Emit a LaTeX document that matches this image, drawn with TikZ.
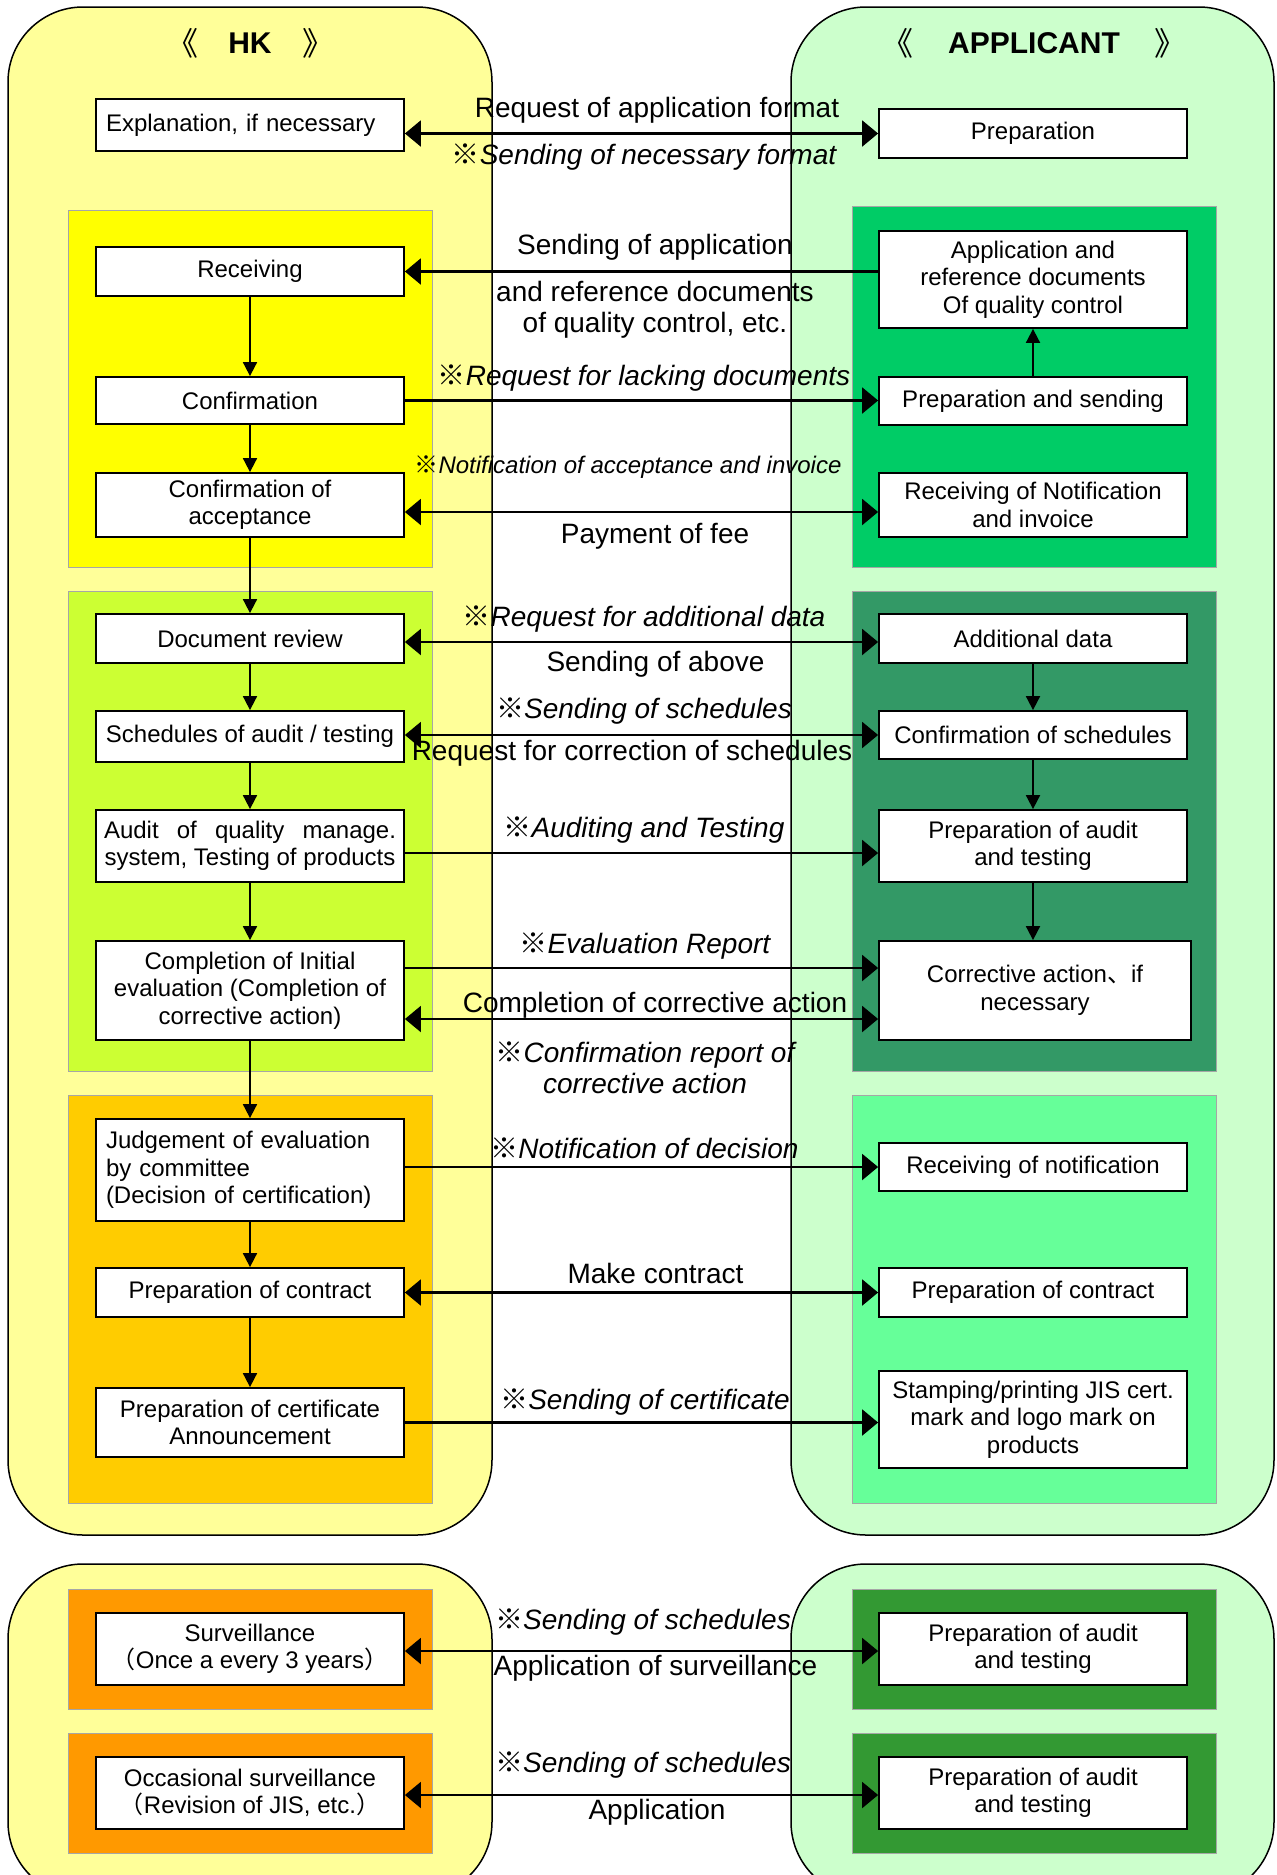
\documentclass[tikz,border=0pt]{standalone}
\usepackage{fontspec}
\setmainfont{Liberation Sans}
\newfontfamily\cjk{Noto Sans CJK JP}
\usetikzlibrary{arrows.meta}
\newcommand\km{{\cjk ※}}
\definecolor{bgY}{HTML}{FFFF99}
\definecolor{bgG}{HTML}{CCFFCC}
\definecolor{pYa}{HTML}{FFFF00}
\definecolor{pGa}{HTML}{00CC66}
\definecolor{pYb}{HTML}{CCFF33}
\definecolor{pGb}{HTML}{339966}
\definecolor{pYc}{HTML}{FFCC00}
\definecolor{pGc}{HTML}{66FF99}
\definecolor{pYd}{HTML}{FF9900}
\definecolor{pGd}{HTML}{339933}
\begin{document}
\begin{tikzpicture}[x=1pt,y=-1pt,
 box/.style={draw,line width=1.8pt,fill=white,align=center,inner sep=2pt,font=\fontsize{24}{27.5}\selectfont,minimum width=308pt},
 lab/.style={inner sep=0pt,align=center,font=\fontsize{28}{31}\selectfont},
 ilab/.style={inner sep=0pt,align=center,font=\fontsize{28}{31}\selectfont\itshape},
 silab/.style={inner sep=0pt,align=center,font=\fontsize{24}{27}\selectfont\itshape},
 hd/.style={inner sep=0pt,font=\fontsize{30}{32}\selectfont\bfseries},
 hbr/.style={inner sep=0pt,font=\fontsize{32}{34}\selectfont\cjk},
 harr/.style={line width=2.2pt,-{Triangle[length=16pt,width=26pt]}},
 darr/.style={line width=2.2pt,{Triangle[length=16pt,width=26pt]}-{Triangle[length=16pt,width=26pt]}},
 varr/.style={line width=1.8pt,-{Triangle[length=14pt,width=14pt]}},
 panel/.style={draw=black!35,line width=1pt},
 big/.style={draw=black,line width=1.5pt,rounded corners=75pt}
]
\path[use as bounding box] (0,0) rectangle (1277,1875);
\clip (0,0) rectangle (1277,1875);
% big lanes
\draw[big,fill=bgY] (8,7) rectangle (492,1535);
\draw[big,fill=bgG] (791,7) rectangle (1274,1535);
\draw[big,fill=bgY] (8,1564) rectangle (492,1897);
\draw[big,fill=bgG] (791,1564) rectangle (1274,1897);
% panels
\draw[panel,fill=pYa] (68,210) rectangle (432,567);
\draw[panel,fill=pGa] (852,206) rectangle (1216,567);
\draw[panel,fill=pYb] (68,591) rectangle (432,1071);
\draw[panel,fill=pGb] (852,591) rectangle (1216,1071);
\draw[panel,fill=pYc] (68,1095) rectangle (432,1503);
\draw[panel,fill=pGc] (852,1095) rectangle (1216,1503);
\draw[panel,fill=pYd] (68,1589) rectangle (432,1709);
\draw[panel,fill=pYd] (68,1733) rectangle (432,1853);
\draw[panel,fill=pGd] (852,1589) rectangle (1216,1709);
\draw[panel,fill=pGd] (852,1733) rectangle (1216,1853);
% headings
\node[hbr] (hl) at (182,43) {《};
\node[hd] (hk) at (250,43) {HK};
\node[hbr] (hr) at (318,43) {》};
\node[hbr] (al) at (897,43) {《};
\node[hd] (ap) at (1034,43) {APPLICANT};
\node[hbr] (ar) at (1170,43) {》};
% left boxes
\node[box,align=left,text width=288pt,inner xsep=10pt,minimum height=52pt] (expl) at (250,125) {Explanation, if necessary};
\node[box,minimum height=49pt] (rec) at (250,271.5) {Receiving};
\node[box,minimum height=47pt] (conf) at (250,400.5) {Confirmation};
\node[box,minimum height=64pt] (cacc) at (250,505) {Confirmation of\\acceptance};
\node[box,minimum height=49pt] (drev) at (250,638.5) {Document review};
\node[box,minimum height=51pt] (sched) at (250,736.5) {Schedules of audit / testing};
\node[box,minimum height=72pt] (aud) at (250,846) {\makebox[292pt][s]{Audit of quality manage.}\\system, Testing of products};
\node[box,minimum height=99pt] (comp) at (250,990.5) {Completion of Initial\\evaluation (Completion of\\corrective action)};
\node[box,align=left,text width=288pt,inner xsep=10pt,minimum height=102pt] (judge) at (250,1170) {Judgement of evaluation\\by committee\\(Decision of certification)};
\node[box,minimum height=49pt] (pcon) at (250,1292.5) {Preparation of contract};
\node[box,minimum height=69pt] (pcert) at (250,1422.5) {Preparation of certificate\\Announcement};
\node[box,minimum height=72pt] (surv) at (250,1649) {Surveillance\\{\cjk （}Once a every 3 years{\cjk ）}};
\node[box,minimum height=72pt] (occ) at (250,1793) {Occasional surveillance\\{\cjk （}Revision of JIS, etc.{\cjk ）}};
% right boxes
\node[box,minimum height=49pt] (prep) at (1033,133.5) {Preparation};
\node[box,minimum height=97pt] (appd) at (1033,279.5) {Application and\\reference documents\\Of quality control};
\node[box,minimum height=48pt] (psend) at (1033,401) {Preparation and sending};
\node[box,minimum height=64pt] (rnot) at (1033,505) {Receiving of Notification\\and invoice};
\node[box,minimum height=49pt] (add) at (1033,638.5) {Additional data};
\node[box,minimum height=48pt] (csched) at (1033,735) {Confirmation of schedules};
\node[box,minimum height=72pt] (paud) at (1033,846) {Preparation of audit\\and testing};
\node[box,minimum width=312pt,minimum height=99pt] (corr) at (1035,990.5) {Corrective action{\cjk 、}if\\necessary};
\node[box,minimum height=48pt] (rnotif) at (1033,1167) {Receiving of notification};
\node[box,minimum height=49pt] (pcon2) at (1033,1292.5) {Preparation of contract};
\node[box,minimum height=97pt] (stamp) at (1033,1419.5) {Stamping/printing JIS cert.\\mark and logo mark on\\products};
\node[box,minimum height=72pt] (paud2) at (1033,1649) {Preparation of audit\\and testing};
\node[box,minimum height=72pt] (paud3) at (1033,1793) {Preparation of audit\\and testing};
% helper coordinates
\coordinate (c1) at ([yshift=-7pt]cacc.east);
\coordinate (c2) at ([yshift=-7pt]rnot.west);
\coordinate (c3) at ([yshift=-3.5pt]drev.east);
\coordinate (c4) at ([yshift=-3.5pt]add.west);
\coordinate (c5) at ([yshift=-7pt]aud.east);
\coordinate (c6) at ([yshift=-7pt]paud.west);
\coordinate (c7) at ([yshift=22.5pt]comp.east);
\coordinate (c8) at ([yshift=-28.5pt]comp.east);
\coordinate (c9) at ([yshift=-2pt]surv.east);
\coordinate (c10) at ([yshift=-2pt]paud2.west);
\coordinate (c11) at ([yshift=-2pt]occ.east);
\coordinate (c12) at ([yshift=-2pt]paud3.west);
% horizontal arrows
\draw[darr] (expl.east |- prep.west) -- (prep.west);
\draw[harr] (appd.west |- rec.east) -- (rec.east);
\draw[harr] (conf.east) -- (psend.west |- conf.east);
\draw[darr] (c1) -- (c2);
\draw[darr] (c3) -- (c4);
\draw[darr] (sched.east |- csched.west) -- (csched.west);
\draw[harr] (c5) -- (c6);
\draw[harr] (c7) -- (c7 -| corr.west);
\draw[darr] (c8) -- (c8 -| corr.west);
\draw[harr] (judge.east |- rnotif.west) -- (rnotif.west);
\draw[darr] (pcon.east) -- (pcon2.west);
\draw[harr] (pcert.east) -- (pcert.east -| stamp.west);
\draw[darr] (c9) -- (c10);
\draw[darr] (c11) -- (c12);
% vertical arrows
\draw[varr] (rec) -- (conf);
\draw[varr] (conf) -- (cacc);
\draw[varr] (cacc) -- (drev);
\draw[varr] (drev) -- (sched);
\draw[varr] (sched) -- (aud);
\draw[varr] (aud) -- (comp);
\draw[varr] (comp) -- (judge);
\draw[varr] (judge) -- (pcon);
\draw[varr] (pcon) -- (pcert);
\draw[varr] (psend) -- (appd);
\draw[varr] (add) -- (csched);
\draw[varr] (csched) -- (paud);
\draw[varr] (paud.south) -- (paud.south |- corr.north);
% labels
\node[lab] (l1) at (657,110) {Request of application format};
\node[ilab] (l2) at (644,157) {\km Sending of necessary format};
\node[lab] (l3) at (655,247) {Sending of application};
\node[lab] (l4) at (655,309.5) {and reference documents\\of quality control, etc.};
\node[ilab] (l5) at (644,378) {\km Request for lacking documents};
\node[silab] (l6) at (628,467) {\km Notification of acceptance and invoice};
\node[lab] (l7) at (655,536) {Payment of fee};
\node[ilab] (l8) at (644,619) {\km Request for additional data};
\node[lab] (l9) at (655.5,664) {Sending of above};
\node[ilab] (l10) at (644,711) {\km Sending of schedules};
\node[lab] (l11) at (632,753) {Request for correction of schedules};
\node[ilab] (l12) at (644,830) {\km Auditing and Testing};
\node[ilab] (l13) at (645,946) {\km Evaluation Report};
\node[lab] (l14) at (655,1005) {Completion of corrective action};
\node[ilab] (l15) at (645,1068) {\km Confirmation report of\\corrective action};
\node[ilab] (l16) at (644.5,1148) {\km Notification of decision};
\node[lab] (l17) at (655.5,1273) {Make contract};
\node[ilab] (l18) at (645,1402) {\km Sending of certificate};
\node[ilab] (l19) at (643,1622) {\km Sending of schedules};
\node[lab] (l20) at (655.5,1668) {Application of surveillance};
\node[ilab] (l21) at (643,1765) {\km Sending of schedules};
\node[lab] (l22) at (657,1812) {Application};
\end{tikzpicture}
\end{document}
